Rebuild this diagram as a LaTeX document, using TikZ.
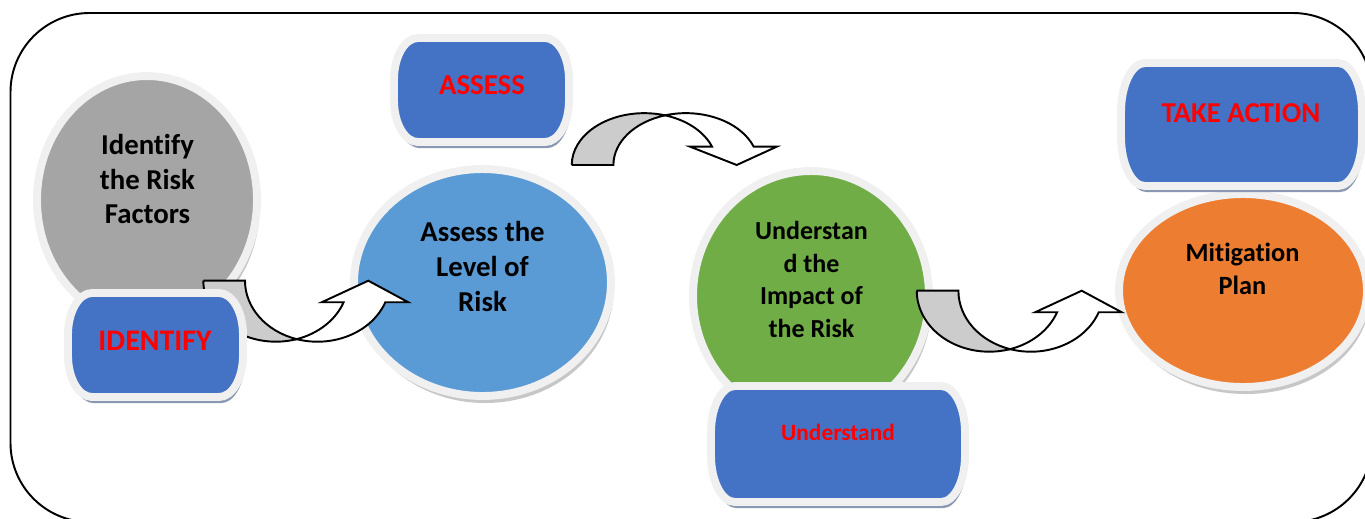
\documentclass[tikz,border=0pt]{standalone}
\usepackage{fontspec}
\setmainfont{Carlito}[RawFeature=-liga]
\usetikzlibrary{shapes.geometric,shadows}

\definecolor{ringgray}{HTML}{F0F0F0}
\definecolor{factorgray}{HTML}{A5A5A5}
\definecolor{levelblue}{HTML}{5B9BD5}
\definecolor{impactgreen}{HTML}{70AD47}
\definecolor{planorange}{HTML}{ED7D31}
\definecolor{stepblue}{HTML}{4472C4}
\definecolor{stepshadow}{HTML}{8A98B4}
\definecolor{backside}{HTML}{CCCCCC}

% stadium box with elliptic ends, corners (#1,#2) and (#3,#4)
\newcommand\pillbox[4]{%
  \pgfmathsetmacro\pillry{0.4*(#4-#2)}
  \path[pillbody] ({#1+24},#2) -- ({#3-24},#2)
    arc[start angle=-90, end angle=0, x radius=24, y radius=\pillry]
    -- (#3,{#4-\pillry})
    arc[start angle=0, end angle=90, x radius=24, y radius=\pillry]
    -- ({#1+24},#4)
    arc[start angle=90, end angle=180, x radius=24, y radius=\pillry]
    -- (#1,{#2+\pillry})
    arc[start angle=180, end angle=270, x radius=24, y radius=\pillry]
    -- cycle;}

\tikzset{
  pics/uturn/.style={code={
    % shaded back of the ribbon
    \draw[ribbon, fill=backside] (0,0) -- (41.7,0)
      arc[start angle=180, end angle=106.7, x radius=72.5, y radius=61]
      arc[start angle=73.3, end angle=180, x radius=72.5, y radius=61] -- cycle;
    % front with the head
    \draw[ribbon, fill=white] (93.35,58.43)
      arc[start angle=73.3, end angle=20.7, x radius=72.5, y radius=61]
      -- (118.4,21.56) -- (165,0) -- (205,21.56) -- (182,21.56)
      arc[start angle=20.7, end angle=106.7, x radius=72.5, y radius=61] -- cycle;
  }}
}

\begin{document}
\begin{tikzpicture}[x=0.02cm, y=-0.02cm,
  bubble/.style={ellipse, draw=ringgray, line width=4.5pt, inner sep=0pt,
    drop shadow={shadow xshift=1.5pt, shadow yshift=-4pt, fill=black, opacity=.22}},
  bubbletext/.style={align=center, inner sep=0pt, font=\fontsize{16.4}{19.9}\selectfont\bfseries},
  pillbody/.style={fill=stepblue, draw=ringgray, line width=4.5pt,
    preaction={fill=stepshadow, transform canvas={shift={(1pt,-3.5pt)}}}},
  steptext/.style={anchor=base, inner sep=0pt, text=red, font=\fontsize{16.4}{20}\selectfont\bfseries},
  ribbon/.style={draw=black, line width=1.1pt},
  frame/.style={draw=black, line width=1.1pt, rounded corners=45pt}]

\useasboundingbox (0,0) rectangle (1365,518);
\clip (0,0) rectangle (1365,518);

\path[frame] (10.5,13) rectangle (1372,522);

% circles
\node[bubble, fill=factorgray, minimum width=4.4cm, minimum height=4.96cm] (factors) at (147,200) {};
\node[bubbletext] (factorslabel) at (147.5,179) {Identify\\the Risk\\Factors};

\node[bubble, fill=levelblue, minimum width=5.14cm, minimum height=4.54cm] (level) at (482.5,282.5) {};
\node[bubbletext] (levellabel) at (482.5,266.5) {Assess the\\Level of\\Risk};

\node[bubble, fill=impactgreen, minimum width=4.72cm, minimum height=5.0cm] (impact) at (811,296) {};
\node[bubbletext, font=\fontsize{14.8}{18.7}\selectfont\bfseries] (impactlabel) at (811.5,279.4)
  {Understan\\d the\\Impact of\\the Risk};

\node[bubble, fill=planorange, minimum width=4.96cm, minimum height=3.86cm] (plan) at (1243,290.5) {};
\node[bubbletext, font=\fontsize{15}{18.9}\selectfont\bfseries] (planlabel) at (1242.5,269.1) {Mitigation\\Plan};

% bent arrows
\coordinate (bendA) at (203.3,280.7);
\coordinate (bendB) at (571.7,165);
\coordinate (bendC) at (916.7,290.7);
\pic at (bendA) {uturn};
\pic[yscale=-0.85] at (bendB) {uturn};
\pic at (bendC) {uturn};

% step boxes
\pillbox{68}{293}{243}{397}
\node[steptext, font=\fontsize{17}{20}\selectfont\bfseries] (identify) at (155,350.7) {IDENTIFY};

\pillbox{394}{38}{569}{142}
\node[steptext] (assess) at (482,94.3) {ASSESS};

\pillbox{1121}{63}{1362}{186}
\node[steptext] (action) at (1241,122.7) {TAKE ACTION};

\pillbox{711}{386}{965}{502}
\node[steptext, font=\fontsize{13.3}{16}\selectfont\bfseries] (understand) at (838,440) {Understand};

\end{tikzpicture}
\end{document}
